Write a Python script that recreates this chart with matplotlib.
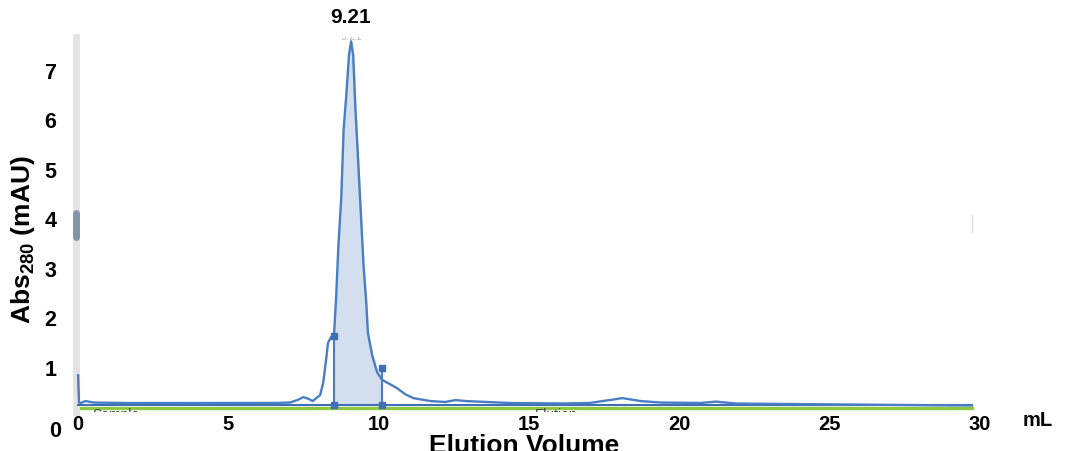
import numpy as np
import matplotlib.pyplot as plt

plt.rcParams['font.family'] = ['Liberation Sans', 'DejaVu Sans']
plt.rcParams['mathtext.fontset'] = 'custom'
plt.rcParams['mathtext.rm'] = 'Liberation Sans:bold'
plt.rcParams['mathtext.bf'] = 'Liberation Sans:bold'
plt.rcParams['mathtext.default'] = 'rm'

# UV trace (mL, mAU)
volume = [0.0, 0.03, 0.08, 0.25, 0.5, 1.5, 3.0, 5.0, 6.5, 7.05, 7.3, 7.48, 7.65,
          7.8, 8.05, 8.15, 8.25, 8.31, 8.41, 8.51, 8.58, 8.65, 8.75, 8.83, 8.91,
          9.01, 9.08, 9.15, 9.21, 9.38, 9.48, 9.58, 9.64, 9.78, 9.94, 10.11,
          10.38, 10.61, 10.87, 11.14, 11.71, 12.2, 12.54, 12.87, 13.7, 14.37,
          16.03, 17.0, 17.7, 18.1, 18.7, 19.35, 20.7, 21.2, 21.85, 24.0, 27.3,
          29.73]
absorbance = [0.85, 0.30, 0.29, 0.33, 0.30, 0.29, 0.29, 0.29, 0.29, 0.30, 0.35,
              0.41, 0.38, 0.33, 0.45, 0.69, 1.16, 1.50, 1.62, 1.64, 2.37, 3.38,
              4.39, 5.80, 6.41, 7.32, 7.60, 7.32, 6.41, 4.39, 3.18, 2.37, 1.70,
              1.26, 0.92, 0.76, 0.67, 0.59, 0.47, 0.39, 0.33, 0.31, 0.35, 0.33,
              0.31, 0.29, 0.28, 0.29, 0.35, 0.39, 0.33, 0.30, 0.29, 0.32, 0.28,
              0.27, 0.25, 0.24]

baseline = 0.25
green_level = 0.19
peak_start, peak_end = 8.51, 10.11
peak_start_top, peak_end_top = 1.64, 1.0
peak_label = '9.21'

x_ticks = [0, 5, 10, 15, 20, 25, 30]
y_ticks = [1, 2, 3, 4, 5, 6, 7]

fig = plt.figure(figsize=(10.67, 4.51), dpi=100)
ax = fig.add_axes([76 / 1067, 39 / 451, 904 / 1067, 375 / 451])

vol = np.array(volume)
absb = np.array(absorbance)

# dense copy of the read points just so the line draws smoothly
xs = np.linspace(vol[0], vol[-1], 3000)
ys = np.interp(xs, vol, absb)

line_col = '#4a7ec4'
ax.plot([0, vol[-1]], [green_level, green_level], color='#8dc63f', lw=2.4, zorder=2)
ax.plot([0, vol[-1]], [baseline, baseline], color='#3f6fb5', lw=1.5, zorder=3)
ax.plot(xs, ys, color=line_col, lw=1.7, solid_joinstyle='round', zorder=4)

sel = (xs >= peak_start) & (xs <= peak_end)
ax.fill_between(xs[sel], baseline, ys[sel], color='#d3dfee', zorder=1)
ax.plot([peak_start, peak_start], [baseline, peak_start_top], color=line_col, lw=1.5,
        zorder=4)
ax.plot([peak_end, peak_end], [baseline, peak_end_top], color=line_col, lw=1.5, zorder=4)
ax.plot([peak_start, peak_end, peak_start, peak_end],
        [baseline, baseline, peak_start_top, peak_end_top], 's', color='#3f6fb5',
        ms=4, ls='none', zorder=5)

# event labels along the bottom, clipped by the plot edge
ax.text(0.47, green_level, 'Sample', fontsize=10, color='#444444', va='top',
        ha='left', clip_on=True)
ax.text(15.2, green_level, 'Elution', fontsize=10, color='#444444', va='top',
        ha='left', clip_on=True)
ax.text(9.08, 7.685, peak_label, fontsize=8, color='#bbbbbb', ha='center',
        va='center', clip_on=True)

ax.set_xlim(-0.07, 30)
ax.set_ylim(0.109, 7.685)
ax.set_xticks(x_ticks)
ax.set_yticks(y_ticks)
ax.tick_params(axis='x', length=0, pad=2, labelsize=14.5)
ax.tick_params(axis='y', length=0, pad=14, labelsize=15.5)
for lab in ax.get_xticklabels() + ax.get_yticklabels():
    lab.set_fontweight('bold')

for s in ['top', 'right', 'bottom']:
    ax.spines[s].set_visible(False)
ax.spines['left'].set_color('#e4e4e4')
ax.spines['left'].set_linewidth(5)
ax.axvline(-0.07, color='#a9b7c8', lw=1, zorder=0)
ax.plot([-0.07, -0.07], [0.467, 0.531], transform=ax.get_xaxis_transform(),
        color='#8295ab', lw=5, solid_capstyle='round', clip_on=False, zorder=6)
ax.plot([vol[-1], vol[-1]], [0.48, 0.525], transform=ax.get_xaxis_transform(),
        color='#dddddd', lw=1, clip_on=False)

ax.text(-0.017, -0.29, '0', transform=ax.get_yaxis_transform(), ha='right',
        va='center', fontsize=15.5, fontweight='bold', clip_on=False)
ax.text(9.08, 1.051, peak_label, transform=ax.get_xaxis_transform(), ha='center',
        va='center', fontsize=15, fontweight='bold', clip_on=False)

fig.text(1038 / 1067, 30 / 451, 'mL', ha='center', va='center', fontsize=14.5,
         fontweight='bold')
# the reference crops the bottom of this title at the image edge
fig.text(524 / 1067, -2 / 451, 'Elution Volume', ha='center', va='baseline',
         fontsize=19, fontweight='bold')
fig.text(23 / 1067, 211 / 451, r'Abs$_{280}$ (mAU)', rotation=90, ha='center',
         va='center', fontsize=19, fontweight='bold')

fig.savefig('out.png', dpi=100)
